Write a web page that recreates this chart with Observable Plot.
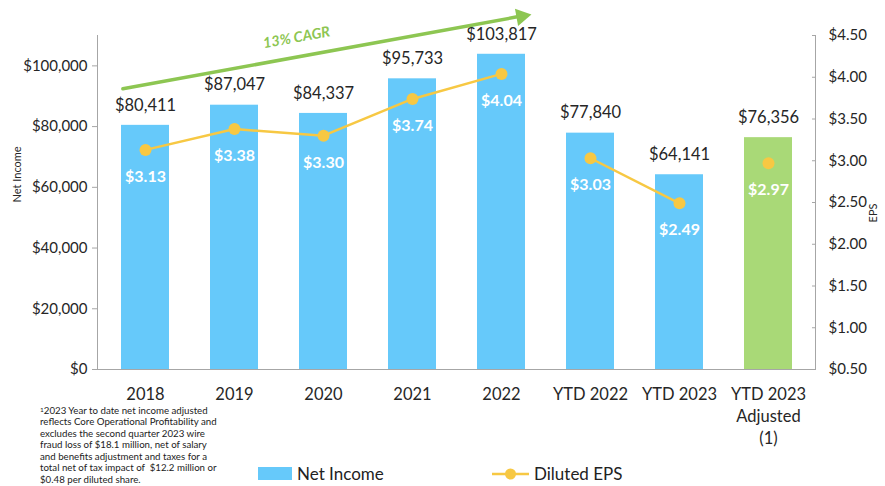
<!DOCTYPE html>
<html><head><meta charset="utf-8">
<script src="https://cdn.jsdelivr.net/npm/d3@7"></script>
<script src="https://cdn.jsdelivr.net/npm/@observablehq/plot@0.6"></script>
<style>
body{margin:0;background:#fff;font-family:Lato,sans-serif;}
#wrap{position:relative;width:885px;height:486px;overflow:hidden;}
#wrap > svg{position:absolute;left:0;top:0;}
#note{position:absolute;left:40px;top:404.5px;font-size:9.7px;line-height:11.6px;color:#222;white-space:nowrap;}
#note sup{font-size:6.5px;vertical-align:top;position:relative;top:-1px;}
.leg{position:absolute;top:463px;font-size:17px;color:#222;display:flex;align-items:center;white-space:nowrap;}
</style></head><body><div id="wrap"></div>
<script>
// ---- data ----
const categories = ["2018","2019","2020","2021","2022","YTD 2022","YTD 2023","YTD 2023\nAdjusted\n(1)"];
const netIncome = [80411, 87047, 84337, 95733, 103817, 77840, 64141, 76356];
const dilutedEPS = [3.13, 3.38, 3.30, 3.74, 4.04, 3.03, 2.49, 2.97];
const epsSegment = ["annual","annual","annual","annual","annual","ytd","ytd","adjusted"];
const barKind = ["reported","reported","reported","reported","reported","reported","reported","adjusted"];
const netIncomeTicks = [0, 20000, 40000, 60000, 80000, 100000];
const epsTicks = [0.5, 1.0, 1.5, 2.0, 2.5, 3.0, 3.5, 4.0, 4.5];
const cagr = {label: "13% CAGR", from: "2018", to: "2022", fromValue: 93800, toValue: 115200, labelValue: 109300, headValue: 116300};
const footnoteLines = [
  "2023 Year to date net income adjusted",
  "reflects Core Operational Profitability and",
  "excludes the second quarter 2023 wire",
  "fraud loss of $18.1 million, net of salary",
  "and benefits adjustment and taxes for a",
  "total net of tax impact of  $12.2 million or",
  "$0.48 per diluted share."
];

// ---- build ----
const blue = "#66C9FA", green = "#A9D977", yellow = "#F7C843", cagrGreen = "#8DC652", ink = "#262626", axisGray = "#a6a6a6";
const yMax = 110000, eMin = 0.5, eMax = 4.5;
const toY = v => (v - eMin) / (eMax - eMin) * yMax;
const fromY = y => y / yMax * (eMax - eMin) + eMin;
const rows = categories.map((c, i) => ({cat: c, ni: netIncome[i], eps: dilutedEPS[i], seg: epsSegment[i], kind: barKind[i]}));
const fmtMoney = d3.format(",");

function axisLines(index, scales, values, dims) {
  const g = d3.create("svg:g").attr("stroke", axisGray).attr("stroke-width", 1).attr("shape-rendering","crispEdges");
  const l = dims.marginLeft, r = dims.width - dims.marginRight, t = dims.marginTop, b = dims.height - dims.marginBottom;
  g.append("line").attr("x1", l).attr("x2", l).attr("y1", t).attr("y2", b);
  g.append("line").attr("x1", r).attr("x2", r).attr("y1", t).attr("y2", b);
  g.append("line").attr("x1", l).attr("x2", r).attr("y1", b).attr("y2", b);
  return g.node();
}

const chart = Plot.plot({
  width: 885, height: 486,
  marginLeft: 97, marginRight: 70, marginTop: 35, marginBottom: 117,
  style: {fontFamily: "Lato, sans-serif", color: ink, background: "transparent"},
  x: {domain: categories, paddingInner: 0.465, paddingOuter: 0.2325, axis: null},
  y: {domain: [0, yMax], axis: null},
  marks: [
    Plot.barY(rows, {x: "cat", y: "ni", fill: d => d.kind === "adjusted" ? green : blue}),
    axisLines,
    Plot.axisY({anchor: "left", ticks: netIncomeTicks, tickFormat: d => "$" + fmtMoney(d), tickSize: 5, tickPadding: 5, fontSize: 15, stroke: axisGray, fill: ink, label: null}),
    Plot.axisY({anchor: "right", ticks: epsTicks.map(toY), tickFormat: d => "$" + fromY(d).toFixed(2), tickSize: -4, tickPadding: 17, fontSize: 15, stroke: axisGray, fill: ink, label: null}),
    Plot.axisX({ticks: categories, tickSize: 0, tickPadding: 14.5, fontSize: 16.5, lineHeight: 1.35, fill: ink, label: null}),
    Plot.text(["Net Income"], {frameAnchor: "left", rotate: -90, dx: -80, fontSize: 11, fill: ink}),
    Plot.text(["EPS"], {frameAnchor: "right", rotate: -90, dx: 58, dy: 1, fontSize: 11, fill: ink}),
    Plot.text(rows, {x: "cat", y: "ni", text: d => "$" + fmtMoney(d.ni), dy: -20, fontSize: 16.5, fill: ink}),
    Plot.line(rows.filter(d => d.seg !== "adjusted"), {x: "cat", y: d => toY(d.eps), z: "seg", stroke: yellow, strokeWidth: 2.5}),
    Plot.dot(rows, {x: "cat", y: d => toY(d.eps), r: 6, fill: yellow, stroke: "none"}),
    Plot.text(rows, {x: "cat", y: d => toY(d.eps), text: d => "$" + d.eps.toFixed(2), dy: 27, fontSize: 16, fontWeight: "bold", fill: "white"}),
    Plot.arrow([cagr], {x1: "from", y1: "fromValue", x2: "to", y2: "toValue", stroke: cagrGreen, strokeWidth: 3.5, headLength: 0, insetStart: -23, insetEnd: -16, bend: 0}),
    Plot.dot([cagr], {x: "to", y: "headValue", dx: 20, symbol: "triangle", r: 6.5, rotate: 79.7, fill: cagrGreen, stroke: "none"}),
    Plot.text([cagr], {x: "from", y: "labelValue", text: "label", dx: 151, rotate: -10.3, fontSize: 14.5, fontWeight: "bold", fontStyle: "italic", fill: cagrGreen})
  ]
});

const wrap = document.getElementById("wrap");
wrap.appendChild(chart);

const note = document.createElement("div");
note.id = "note";
note.innerHTML = footnoteLines.map((l, i) => (i === 0 ? "<sup>1</sup>" : "") + l.replace(/  /g, "&nbsp; ")).join("<br>");
wrap.appendChild(note);

const leg1 = document.createElement("div");
leg1.className = "leg"; leg1.style.left = "258px";
leg1.innerHTML = `<span style="display:inline-block;width:34px;height:13px;background:${blue};margin-right:5px"></span>Net Income`;
wrap.appendChild(leg1);

const leg2 = document.createElement("div");
leg2.className = "leg"; leg2.style.left = "492px";
leg2.innerHTML = `<svg width="38" height="14" style="margin-right:4px"><line x1="0" x2="37" y1="7" y2="7" stroke="${yellow}" stroke-width="2.5"/><circle cx="18.5" cy="7" r="5.5" fill="${yellow}"/></svg>Diluted EPS`;
wrap.appendChild(leg2);
</script>
</body></html>
